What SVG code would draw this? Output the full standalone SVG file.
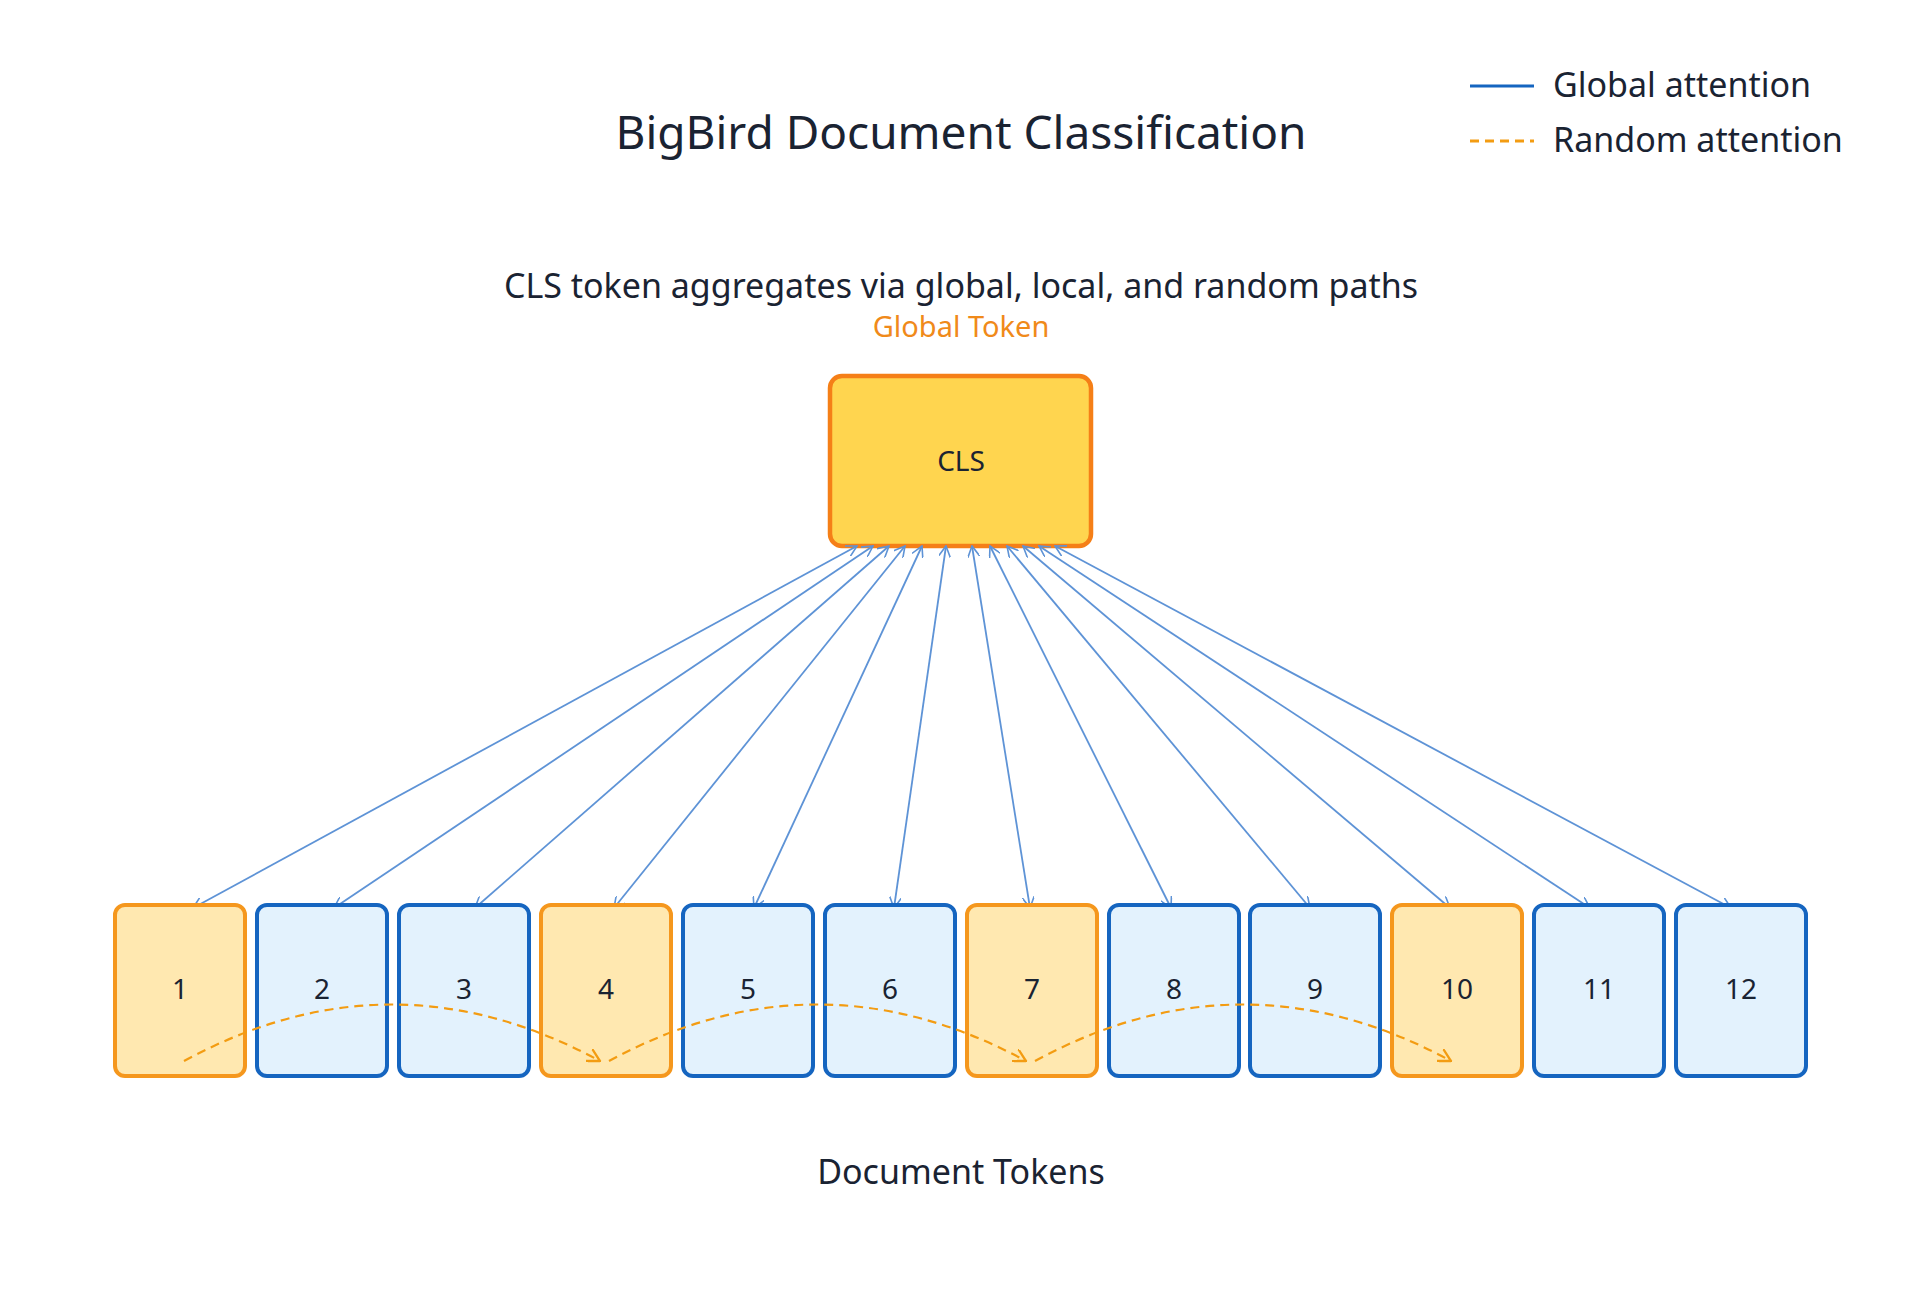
<svg xmlns="http://www.w3.org/2000/svg" width="1920" height="1292" viewBox="0 0 1920 1292">
<style>
text{font-family:"Noto Sans","Open Sans",sans-serif;fill:#1a2332;text-anchor:middle}
.tk{font-size:28px}
.o rect{fill:#FFE8B0;stroke:#F5971D;stroke-width:4}
.b rect{fill:#E3F2FD;stroke:#1565C0;stroke-width:4}
.g{stroke:#5E93D6;stroke-width:1.8;fill:none;marker-end:url(#ab);marker-start:url(#ab)}
.r{stroke:#F39C12;stroke-width:2.2;fill:none;stroke-dasharray:9 6;marker-end:url(#ao)}
</style>
<defs>
<marker id="ab" viewBox="0 0 12 12" refX="11" refY="6" markerWidth="12" markerHeight="12" markerUnits="userSpaceOnUse" orient="auto-start-reverse"><path d="M0,0 L11,6 L0,12" fill="none" stroke="#5E93D6" stroke-width="1.6"/></marker>
<marker id="ao" viewBox="0 0 12 12" refX="11" refY="6" markerWidth="14" markerHeight="14" markerUnits="userSpaceOnUse" orient="auto"><path d="M0,0 L11,6 L0,12" fill="none" stroke="#F39C12" stroke-width="2"/></marker>
</defs>
<rect width="1920" height="1292" fill="#fff"/>
<text x="961" y="149" style="font-size:46px">BigBird Document Classification</text>
<g id="legend">
<line x1="1470" y1="86" x2="1534" y2="86" stroke="#1565C0" stroke-width="3"/>
<text x="1553" y="97" style="font-size:34px;text-anchor:start">Global attention</text>
<line x1="1470" y1="141" x2="1534" y2="141" stroke="#F39C12" stroke-width="3" stroke-dasharray="9 6"/>
<text x="1553" y="152" style="font-size:34px;text-anchor:start">Random attention</text>
</g>
<text x="961" y="298" style="font-size:34px">CLS token aggregates via global, local, and random paths</text>
<text x="961" y="337" style="font-size:29px;fill:#F08A1A">Global Token</text>
<g id="cls"><rect x="830" y="376" width="261" height="170" rx="12" fill="#FFD54F" stroke="#F57F17" stroke-width="4.5"/><text x="961" y="471" class="tk">CLS</text></g>
<g id="connectors">
<line class="g" x1="857" y1="546" x2="193" y2="908"/>
<line class="g" x1="873" y1="546" x2="334" y2="908"/>
<line class="g" x1="889" y1="546" x2="475" y2="908"/>
<line class="g" x1="905" y1="546" x2="614" y2="908"/>
<line class="g" x1="922" y1="546" x2="754" y2="908"/>
<line class="g" x1="946" y1="546" x2="894" y2="908"/>
<line class="g" x1="972" y1="546" x2="1030" y2="908"/>
<line class="g" x1="990" y1="546" x2="1171" y2="908"/>
<line class="g" x1="1007" y1="546" x2="1310" y2="908"/>
<line class="g" x1="1023" y1="546" x2="1450" y2="908"/>
<line class="g" x1="1039" y1="546" x2="1590" y2="908"/>
<line class="g" x1="1055" y1="546" x2="1731" y2="908"/>
</g>
<g id="t1" class="o"><rect x="115" y="905" width="130" height="171" rx="10"/><text x="180" y="999" class="tk">1</text></g>
<g id="t2" class="b"><rect x="257" y="905" width="130" height="171" rx="10"/><text x="322" y="999" class="tk">2</text></g>
<g id="t3" class="b"><rect x="399" y="905" width="130" height="171" rx="10"/><text x="464" y="999" class="tk">3</text></g>
<g id="t4" class="o"><rect x="541" y="905" width="130" height="171" rx="10"/><text x="606" y="999" class="tk">4</text></g>
<g id="t5" class="b"><rect x="683" y="905" width="130" height="171" rx="10"/><text x="748" y="999" class="tk">5</text></g>
<g id="t6" class="b"><rect x="825" y="905" width="130" height="171" rx="10"/><text x="890" y="999" class="tk">6</text></g>
<g id="t7" class="o"><rect x="967" y="905" width="130" height="171" rx="10"/><text x="1032" y="999" class="tk">7</text></g>
<g id="t8" class="b"><rect x="1109" y="905" width="130" height="171" rx="10"/><text x="1174" y="999" class="tk">8</text></g>
<g id="t9" class="b"><rect x="1250" y="905" width="130" height="171" rx="10"/><text x="1315" y="999" class="tk">9</text></g>
<g id="t10" class="o"><rect x="1392" y="905" width="130" height="171" rx="10"/><text x="1457" y="999" class="tk">10</text></g>
<g id="t11" class="b"><rect x="1534" y="905" width="130" height="171" rx="10"/><text x="1599" y="999" class="tk">11</text></g>
<g id="t12" class="b"><rect x="1676" y="905" width="130" height="171" rx="10"/><text x="1741" y="999" class="tk">12</text></g>
<g id="random">
<path class="r" d="M184,1061 Q392,948 600,1061"/>
<path class="r" d="M609,1061 Q817,948 1026,1061"/>
<path class="r" d="M1035,1061 Q1243,948 1451,1061"/>
</g>
<text x="961" y="1184" style="font-size:34px">Document Tokens</text>
</svg>
